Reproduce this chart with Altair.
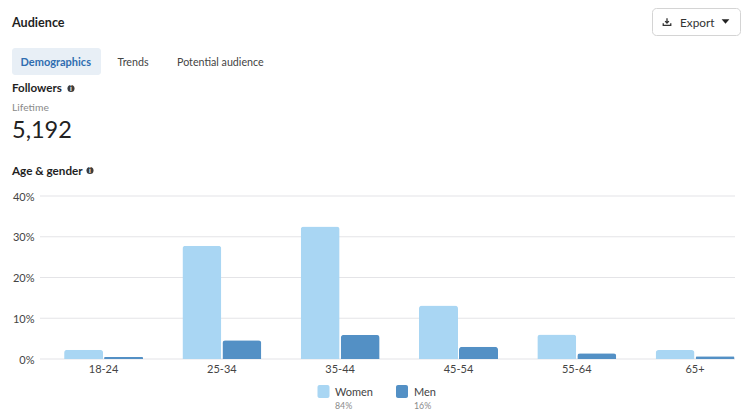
import altair as alt
import pandas as pd

ages = ["18-24", "25-34", "35-44", "45-54", "55-64", "65+"]
women = [2.3, 27.8, 32.5, 13.1, 6.0, 2.2]
men = [0.5, 4.6, 5.9, 3.0, 1.4, 0.7]
y_ticks = [0, 10, 20, 30, 40]
genders = ["Women", "Men"]
shares = ["84%", "16%"]
colors = ["#A9D6F3", "#5390C5"]
FONT = "Lato"

# plot-area origin on the page: (40, 196)
OX, OY = 40, 196
W, H = 695, 163


def px(x):
    return alt.value(x - OX)


def py(y):
    return alt.value(y - OY)


df = pd.DataFrame({
    "age": ages * 2,
    "gender": ["Women"] * 6 + ["Men"] * 6,
    "value": women + men,
})

yscale = alt.Scale(domain=[0, 40], range=[H, 0], nice=False)
xscale = alt.Scale(domain=ages, range=[4.4, 714.2], paddingInner=0, paddingOuter=0)
yaxis = alt.Axis(title=None, values=y_ticks, domain=False, ticks=False, grid=False,
                 labelExpr="datum.value + '%'", labelFont=FONT, labelFontSize=11,
                 labelColor="#444444", labelPadding=6, labelOffset=1)

grid = alt.Chart(pd.DataFrame({"value": y_ticks})).mark_rule(color="#E4E4E7", strokeWidth=1.2).encode(
    y=alt.Y("value:Q", scale=yscale, axis=yaxis),
    x=alt.value(0), x2=alt.value(W),
)

bars = alt.Chart(df).mark_bar(
    width=39, cornerRadiusTopLeft=3, cornerRadiusTopRight=3
).encode(
    x=alt.X("age:N", scale=xscale, sort=ages,
            axis=alt.Axis(title=None, domain=False, ticks=False, labelAngle=0, labelFont=FONT,
                          labelFontSize=11, labelColor="#444444", labelPadding=4, labelFlush=False)),
    xOffset=alt.XOffset("gender:N", sort=genders,
                        scale=alt.Scale(domain=genders, range=[19.2, 99.2], paddingInner=0, paddingOuter=0)),
    y=alt.Y("value:Q", scale=yscale, axis=yaxis),
    color=alt.Color("gender:N", scale=alt.Scale(domain=genders, range=colors), legend=None),
)


def box(x1, x2, y1, y2, fill, stroke=None, r=3):
    kw = {"cornerRadius": r, "fill": fill}
    if stroke:
        kw.update(stroke=stroke, strokeWidth=1)
    return alt.Chart(pd.DataFrame({"a": [0]})).mark_rect(**kw).encode(
        x=px(x1), x2=px(x2), y=py(y1), y2=py(y2))


def label(text, x, y, size, color="#1f1f1f", weight="normal", align="left"):
    return alt.Chart(pd.DataFrame({"t": [text]})).mark_text(
        font=FONT, fontSize=size, color=color, fontWeight=weight, align=align, baseline="middle"
    ).encode(text="t:N", x=px(x), y=py(y + 0.8))


def info(x, y):
    dot = alt.Chart(pd.DataFrame({"a": [0]})).mark_point(
        filled=True, color="#3c3c3c", opacity=1, size=50, shape="circle"
    ).encode(x=px(x), y=py(y))
    return dot + label("i", x, y - 0.8, 7, "#ffffff", "bold", "center")


download = "M0,-0.9V0.2M-0.45,-0.2L0,0.25L0.45,-0.2M-0.9,0.3V0.8H0.9V0.3"
caret = "M-1,-0.6L1,-0.6L0,0.6Z"

parts = [
    grid, bars,
    label("Audience", 12, 22, 12.6, "#1f1f1f", "bold"),
    box(652.5, 740.5, 8.5, 35.5, "#ffffff", "#D4D4D4", 4),
    alt.Chart(pd.DataFrame({"a": [0]})).mark_point(
        shape=download, filled=False, stroke="#333333", strokeWidth=1.3, size=70, opacity=1
    ).encode(x=px(667), y=py(22)),
    label("Export", 680, 22, 11.8, "#333333"),
    alt.Chart(pd.DataFrame({"a": [0]})).mark_point(
        shape=caret, filled=True, color="#222222", size=60, opacity=1
    ).encode(x=px(725.5), y=py(21.5)),
    box(12, 101, 48, 75, "#E8EFF6", None, 3),
    label("Demographics", 20.5, 62, 11, "#2F6DB0", "bold"),
    label("Trends", 117.5, 62, 10.7, "#444444"),
    label("Potential audience", 177, 62, 10.7, "#444444"),
    label("Followers", 12, 88.5, 11.6, "#1f1f1f", "bold"),
    info(71, 88.5),
    label("Lifetime", 12, 107.5, 10.3, "#8a8a8a"),
    label("5,192", 12, 130, 23.5, "#222222"),
    label("Age & gender", 12, 170.5, 11.7, "#1f1f1f", "bold"),
    info(90, 170.5),
    # legend
    box(317.5, 329.5, 385, 398, colors[0], None, 2),
    box(396, 408, 385, 398, colors[1], None, 2),
    label(genders[0], 335, 392, 11, "#444444"),
    label(genders[1], 414, 392, 11, "#444444"),
    label(shares[0], 335, 405, 8.8, "#8a8a8a"),
    label(shares[1], 414, 405, 8.8, "#8a8a8a"),
]

chart = alt.layer(*parts).properties(
    width=W, height=H,
    padding={"left": OX - 8, "top": OY - 8, "right": 7, "bottom": 412 - OY - H},
    autosize=alt.AutoSizeParams(type="none"),
).configure_view(stroke=None)

chart.save("out.html", embed_options={"renderer": "svg", "actions": False})
